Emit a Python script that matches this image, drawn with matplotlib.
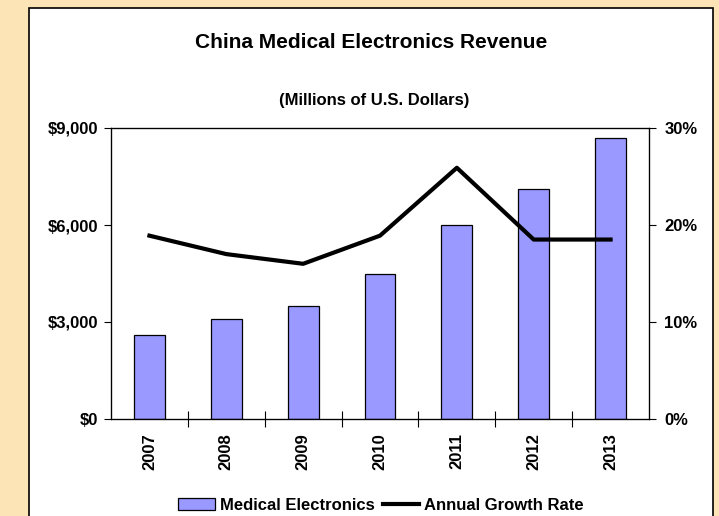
import matplotlib
matplotlib.use("Agg")
from matplotlib import pyplot as plt
from matplotlib.patches import Rectangle
from matplotlib.ticker import FuncFormatter, FixedLocator
import numpy as np

plt.rcParams['font.family'] = ['Liberation Sans', 'DejaVu Sans']
plt.rcParams['font.weight'] = 'bold'

# data
years = ['2007', '2008', '2009', '2010', '2011', '2012', '2013']
revenue = [2600, 3100, 3500, 4470, 6000, 7100, 8700]
growth = [18.9, 17.0, 16.0, 18.9, 25.9, 18.5, 18.5]
rev_ticks = [0, 3000, 6000, 9000]
pct_ticks = [0, 10, 20, 30]

fig = plt.figure(figsize=(7.19, 5.16), dpi=100)
fig.patch.set_facecolor('#FDE4B6')

# white panel behind the chart
panel = Rectangle((29 / 719, -0.05), (712.5 - 29) / 719, 1 - 7.5 / 516 + 0.05,
                  transform=fig.transFigure, facecolor='white',
                  edgecolor='black', linewidth=1.2, zorder=-5)
fig.patches.append(panel)

ax = fig.add_axes([111 / 719, 1 - 419 / 516, (649 - 111) / 719, (419 - 128) / 516])
ax.set_facecolor('white')
x = np.arange(len(years))
bars = ax.bar(x, revenue, width=0.4, color='#9999FF', edgecolor='black',
              linewidth=0.9, label='Medical Electronics', zorder=2)
ax.set_xlim(-0.5, len(years) - 0.5)
ax.set_ylim(0, 9000)
ax.set_yticks(rev_ticks)
ax.yaxis.set_major_formatter(FuncFormatter(lambda v, p: '${:,.0f}'.format(v)))
ax.set_xticks(x)
ax.set_xticklabels(years, rotation=90, fontsize=12, fontweight='bold')
ax.tick_params(axis='x', which='major', length=0, pad=10)
ax.xaxis.set_minor_locator(FixedLocator(np.arange(0.5, len(years) - 1, 1)))
ax.tick_params(axis='x', which='minor', direction='inout', length=11, width=0.8)
ax.tick_params(axis='y', direction='out', length=5, width=0.8, labelsize=12, pad=4)
for lab in ax.get_yticklabels():
    lab.set_fontweight('bold')
for s in ax.spines.values():
    s.set_linewidth(0.9)

ax2 = ax.twinx()
line, = ax2.plot(x, growth, color='black', linewidth=3, label='Annual Growth Rate',
                 zorder=3)
ax2.set_ylim(0, 30)
ax2.set_yticks(pct_ticks)
ax2.yaxis.set_major_formatter(FuncFormatter(lambda v, p: '{:.0f}%'.format(v)))
ax2.tick_params(axis='y', direction='out', length=5, width=0.8, labelsize=12, pad=6)
for lab in ax2.get_yticklabels():
    lab.set_fontweight('bold')

fig.text(0.516, 1 - 42 / 516, 'China Medical Electronics Revenue', ha='center',
         va='center', fontsize=15, fontweight='bold')
fig.text(0.52, 1 - 100 / 516, '(Millions of U.S. Dollars)', ha='center',
         va='center', fontsize=12, fontweight='bold')

fig.legend([bars, line], ['Medical Electronics', 'Annual Growth Rate'],
           loc='center', bbox_to_anchor=(381 / 719, 1 - 505 / 516), ncol=2,
           frameon=False, fontsize=12, handlelength=2.2, handletextpad=0.3,
           columnspacing=0.5, borderaxespad=0)

fig.savefig('out.png', dpi=100, facecolor=fig.get_facecolor())
